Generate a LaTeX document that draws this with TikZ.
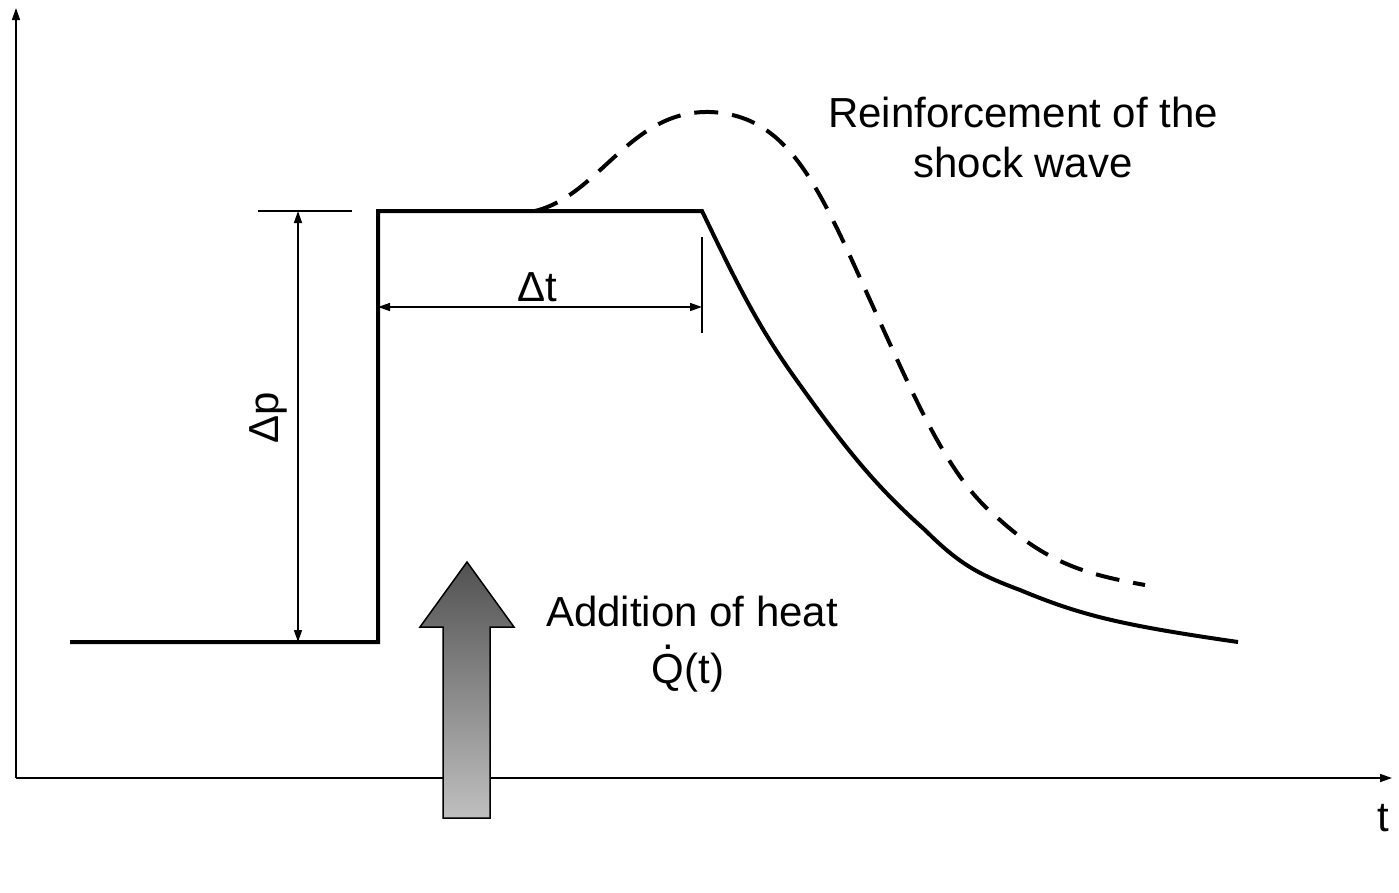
\documentclass[tikz,border=0pt]{standalone}
\usepackage{fontspec}
\setmainfont{Liberation Sans}
\usetikzlibrary{arrows.meta}
\begin{document}
\begin{tikzpicture}[x=1pt,y=-1pt,
  thick curve/.style={line width=4pt,line join=miter},
  thin/.style={line width=1.5pt},
  arr/.style={-{Triangle[length=12pt,width=8pt]}},
  darr/.style={{Triangle[length=12pt,width=8pt]}-{Triangle[length=12pt,width=8pt]}},
  lbl/.style={font=\fontsize{42}{50}\selectfont,align=center}]
\useasboundingbox (0,0) rectangle (1399,892);
\coordinate (O) at (16,778);
\coordinate (Ytop) at (16,8);
\coordinate (Xend) at (1392,778);
\draw[thin,arr] (O) -- (Ytop);
\draw[thin,arr] (O) -- (Xend);
\node[lbl] (t) at (1383,818) {t};
% solid curve
\draw[thick curve] (70,642) -- (378,642) -- (378,211) -- (702,211)
  .. controls (740,290) and (760,330) .. (800,385)
  .. controls (850,455) and (880,490) .. (925,530)
  .. controls (960,565) and (980,575) .. (1020,590)
  .. controls (1080,615) and (1120,625) .. (1238,642);
% dashed
\draw[line width=4pt,dash pattern=on 24pt off 14pt] (535,211)
  .. controls (600,195) and (630,110) .. (710,112)
  .. controls (790,115) and (820,190) .. (870,300)
  .. controls (920,410) and (950,480) .. (1000,520)
  .. controls (1050,565) and (1090,575) .. (1145,585);
% delta p
\coordinate (dp1) at (298,211);
\coordinate (dp2) at (298,642);
\draw[thin] (258,211) -- (352,211);
\draw[thin,darr] (dp1) -- (dp2);
\node[lbl,rotate=90] (dp) at (268,418) {Δp};
% delta t
\coordinate (dt1) at (378,307);
\coordinate (dt2) at (702,307);
\draw[thin] (702,237) -- (702,333);
\draw[thin,darr] (dt1) -- (dt2);
\node[lbl] (dt) at (537,287) {Δt};
% heat arrow
\shade[top color=black!68,bottom color=black!25,draw=black,line width=1.5pt]
 (443,818) -- (443,627) -- (420,627) -- (467,562) -- (514,627) -- (490,627) -- (490,818) -- cycle;
\node[lbl] (heat) at (692,611) {Addition of heat};
\node[lbl] (Q) at (688,673) {\ooalign{Q\cr\hidewidth\raisebox{0.82em}{.}\hidewidth\cr}(t)};
\node[lbl] (reinf) at (1023,137) {Reinforcement of the\\shock wave};
\end{tikzpicture}
\end{document}
